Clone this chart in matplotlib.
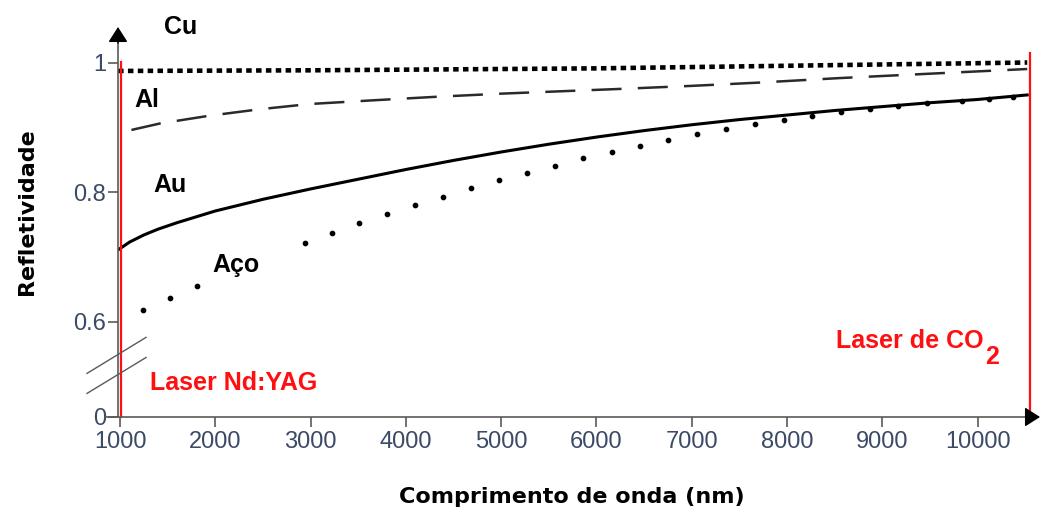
import matplotlib
matplotlib.use('Agg')
import matplotlib.pyplot as plt

plt.rcParams['font.family'] = ['Liberation Sans', 'DejaVu Sans']

# Cu - dense dotted line
cu_wl = [980, 3000, 5000, 6000, 7500, 9000, 10520]
cu_refl = [0.987, 0.988, 0.990, 0.991, 0.994, 0.997, 1.000]

# Al - dashed line
al_wl = [1120, 1420, 1940, 2470, 2990, 3690, 4300, 5000, 6200, 7000, 7700, 8550, 9530, 10520]
al_refl = [0.896, 0.906, 0.918, 0.928, 0.936, 0.942, 0.947, 0.952, 0.959, 0.964, 0.969, 0.976, 0.983, 0.990]

# Au - solid line
au_wl = [990, 1100, 1250, 1400, 1600, 1800, 2000, 2500, 3000, 3500, 4000, 4500, 5000,
         5500, 6000, 6500, 7000, 7500, 8000, 8500, 9000, 9500, 10000, 10520]
au_refl = [0.712, 0.723, 0.734, 0.743, 0.753, 0.762, 0.771, 0.789, 0.805, 0.820, 0.835, 0.849, 0.862,
           0.874, 0.885, 0.895, 0.904, 0.912, 0.919, 0.926, 0.932, 0.938, 0.943, 0.950]

# Aço - sparse dots
aco_wl = [1245, 1528, 1808, 2945, 3228, 3511, 3802, 4092, 4386, 4679, 4973, 5267, 5565,
          5862, 6159, 6457, 6753, 7058, 7355, 7660, 7964, 8262, 8566, 8870, 9167, 9471,
          9832, 10122, 10367]
aco_refl = [0.619, 0.637, 0.655, 0.722, 0.737, 0.752, 0.766, 0.780, 0.793, 0.806, 0.819, 0.830, 0.841,
            0.852, 0.862, 0.872, 0.880, 0.889, 0.897, 0.905, 0.911, 0.917, 0.923, 0.928, 0.933, 0.937,
            0.941, 0.944, 0.947]

# laser wavelengths (vertical red lines)
laser_nd = 1010
laser_co2 = 10545

x_ticks = [1000, 2000, 3000, 4000, 5000, 6000, 7000, 8000, 9000, 10000]
# the y axis is broken: the bottom of the axis stands for 0
y_zero = 0.4532
y_ticks = [y_zero, 0.6, 0.8, 1.0]
y_tick_labels = ['0', '0.6', '0.8', '1']

x_min, x_max = 979, 10654
y_top = 1.0548
axis_grey = '#5a5a5a'
tick_text = '#3b4a66'

fig = plt.figure(figsize=(10.4, 5.15), dpi=100)
ax = fig.add_axes([118 / 1040, 98 / 515, 922 / 1040, 390 / 515])
ax.set_xlim(x_min, x_max)
ax.set_ylim(y_zero, y_top)
for s in ax.spines.values():
    s.set_visible(False)

# curves
ax.plot(cu_wl, cu_refl, color='black', lw=3.3, linestyle=(0, (1.2, 0.95)),
        dash_capstyle='butt', clip_on=False)
ax.plot(al_wl, al_refl, color='#2a2a2a', lw=1.8, linestyle=(0, (12, 6.5)))
ax.plot(au_wl, au_refl, color='black', lw=2.2)
ax.plot(aco_wl, aco_refl, 'o', color='black', ms=3.1, clip_on=False)

# laser lines
ax.plot([laser_nd, laser_nd], [y_zero, 1.001], color='#ff1010', lw=1.6, clip_on=False)
ax.plot([laser_co2, laser_co2], [y_zero, 1.015], color='#ff1010', lw=1.6, clip_on=False)

# axes with arrows
ax.plot([x_min, x_min], [y_zero, 1.035], color=axis_grey, lw=1.2, clip_on=False)
ax.plot([843, x_max - 100], [y_zero, y_zero], color=axis_grey, lw=1.2, clip_on=False)
ax.annotate('', xy=(x_min, y_top), xytext=(x_min, 1.03),
            arrowprops=dict(arrowstyle='-|>,head_length=0.47,head_width=0.3', color='black',
                            lw=1, mutation_scale=20, shrinkA=0, shrinkB=0),
            annotation_clip=False)
ax.annotate('', xy=(x_max, y_zero), xytext=(x_max - 150, y_zero),
            arrowprops=dict(arrowstyle='-|>,head_length=0.47,head_width=0.3', color='black',
                            lw=1, mutation_scale=20, shrinkA=0, shrinkB=0),
            annotation_clip=False)

# break marks on the y axis
ax.plot([654, 1273], [0.5205, 0.576], color=axis_grey, lw=1.0, clip_on=False)
ax.plot([654, 1273], [0.4896, 0.545], color=axis_grey, lw=1.0, clip_on=False)

ax.set_xticks(x_ticks)
ax.set_xticklabels([str(v) for v in x_ticks])
ax.set_yticks(y_ticks)
ax.set_yticklabels(y_tick_labels)
ax.tick_params(axis='both', length=7, width=1.2, color=axis_grey,
               labelsize=17, labelcolor=tick_text)
ax.tick_params(axis='x', pad=3)
ax.tick_params(axis='y', pad=1.5)

# labels on the curves
ax.text(1640, 1.055, 'Cu', fontsize=18, fontweight='bold', ha='center', va='center')
ax.text(1283, 0.942, 'Al', fontsize=18, fontweight='bold', ha='center', va='center')
ax.text(1525, 0.811, 'Au', fontsize=18, fontweight='bold', ha='center', va='center')
ax.text(2217, 0.687, 'Aço', fontsize=18, fontweight='bold', ha='center', va='center')

ax.text(1315, 0.505, 'Laser Nd:YAG', fontsize=18, fontweight='bold', color='#ff1010',
        ha='left', va='center')
ax.text(8513, 0.571, 'Laser de CO', fontsize=18, fontweight='bold', color='#ff1010',
        ha='left', va='center')
ax.text(10150, 0.545, '2', fontsize=18, fontweight='bold', color='#ff1010',
        ha='center', va='center')

fig.text(572 / 1040, 1 - 497 / 515, 'Comprimento de onda (nm)', family='DejaVu Sans',
         fontsize=16, fontweight='bold', ha='center', va='center')
fig.text(27 / 1040, 1 - 212 / 515, 'Refletividade', family='DejaVu Sans',
         fontsize=16, fontweight='bold', ha='center', va='center', rotation=90)

fig.savefig('out.png', dpi=100)
